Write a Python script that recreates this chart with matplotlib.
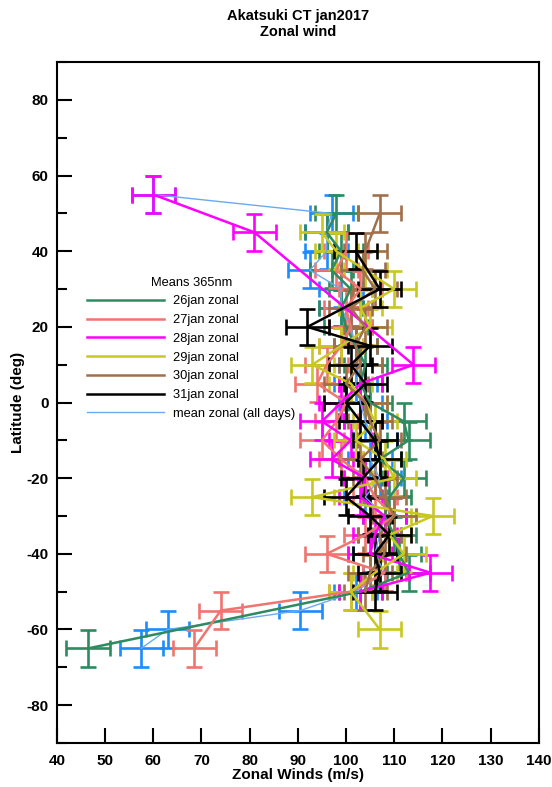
import numpy as np
import matplotlib
matplotlib.use("Agg")
import matplotlib.pyplot as plt

nan = np.nan

# latitude grid (deg)
lats = [55, 50, 45, 40, 35, 30, 25, 20, 15, 10, 5, 0, -5, -10, -15, -20,
        -25, -30, -35, -40, -45, -50, -55, -60, -65]

# zonal wind (m/s) per day, nan = no data
wind_26jan = [nan, 98, 96, 99, 97, 101, 99, 100, 102, 104, 103, 105, 112, 113, 107,
              112, 109, 108, 110, 111, 113, 103, nan, nan, 46.5]
wind_27jan = [nan, nan, nan, 100, 98, 103, 100, 101, 99, 96, 94, 100, 98, 95, 99,
              104, 106, 110, 104, 96, 108, 101, 74, nan, 68.5]
wind_28jan = [60, nan, 81, nan, nan, nan, nan, nan, nan, 114, 103, 99, 95, 101, 97,
              104, 103, 108, 106, 105, 117.5, 103, nan, nan, nan]
wind_29jan = [nan, nan, 95, 98, 104, 110, 103, 105, 99, 93, 101, 104, 106, 102, 108,
              110, 93, 118, 109, 112, 106, 101, nan, 107, nan]
wind_30jan = [nan, 107, nan, 104, 103.5, 106, 101, 104, 102, 103, 100, 104, 105, 107,
              103, 106, 108, 110, 107, 108, 105, 104, nan, nan, nan]
wind_31jan = [nan, nan, nan, 102, nan, 107, nan, 92, 105, 101, 104, 100, 103, 106, 107,
              103.5, 100, 105, 109, 106, 107, 106, nan, nan, nan]
wind_mean = [60, 97, 96, 96, 92.5, 99, 99, 101, 102, 103, 102, 103, 104, 106, 105,
             107, 104, 108, 107, 106, 108, 102, 90.5, 63, 57.5]

wind_err = 4.5   # m/s
lat_err = 4.8    # deg

days = ["26jan zonal", "27jan zonal", "28jan zonal", "29jan zonal",
        "30jan zonal", "31jan zonal"]
day_winds = [wind_26jan, wind_27jan, wind_28jan, wind_29jan, wind_30jan, wind_31jan]
day_colors = ["#2e8b5f", "#f07470", "#ff00ff", "#c8c820", "#a0704a", "#000000"]

plt.rcParams["font.family"] = ["Liberation Sans", "DejaVu Sans"]
plt.rcParams["axes.unicode_minus"] = False

fig = plt.figure(figsize=(5.52, 7.87), dpi=100)
ax = fig.add_axes([0.103, 0.056, 0.873, 0.865])

lat_arr = np.array(lats, dtype=float)


def draw(winds, color, label, lw=1.8, ecolor=None, zorder=2):
    w = np.array(winds, dtype=float)
    ok = ~np.isnan(w)
    ax.errorbar(w[ok], lat_arr[ok], xerr=wind_err, yerr=lat_err, fmt="none",
                ecolor=ecolor or color, elinewidth=1.9, capsize=6, capthick=1.9,
                zorder=zorder)
    ax.plot(w[ok], lat_arr[ok], color=color, lw=lw, label=label, zorder=zorder + 0.5)


for winds, color, label in zip(day_winds, day_colors, days):
    draw(winds, color, label)
draw(wind_mean, "#6aaaf0", "mean zonal (all days)", lw=1.0, ecolor="#1a8cff", zorder=1.5)

ax.set_xlim(40, 140)
ax.set_ylim(-90, 90)
ax.set_xticks(np.arange(40, 141, 10))
ax.set_yticks(np.arange(-80, 81, 20))
ax.set_yticks(np.arange(-90, 91, 10), minor=True)
ax.tick_params(axis="both", which="major", direction="in", length=11, width=1.5,
               labelsize=11)
ax.tick_params(axis="x", which="major", pad=8)
ax.tick_params(axis="y", which="major", pad=6)
ax.tick_params(axis="y", which="minor", direction="in", length=7, width=1.5)
for lab in ax.get_xticklabels() + ax.get_yticklabels():
    lab.set_fontweight("bold")
for sp in ax.spines.values():
    sp.set_linewidth(1.5)

ax.set_xlabel("Zonal Winds (m/s)", fontsize=11, fontweight="bold", labelpad=0)
ax.set_ylabel("Latitude (deg)", fontsize=11, fontweight="bold", labelpad=1)
ax.set_title("Akatsuki CT jan2017\nZonal wind", fontsize=10.5, fontweight="bold", pad=19)

ax.legend(title="Means 365nm", loc="upper left", bbox_to_anchor=(0.062, 0.685),
          frameon=False, borderaxespad=0, borderpad=0, fontsize=9.3, title_fontsize=9.3,
          handlelength=6.0, handletextpad=0.7, labelspacing=0.52)

fig.savefig("out.png", dpi=100)
